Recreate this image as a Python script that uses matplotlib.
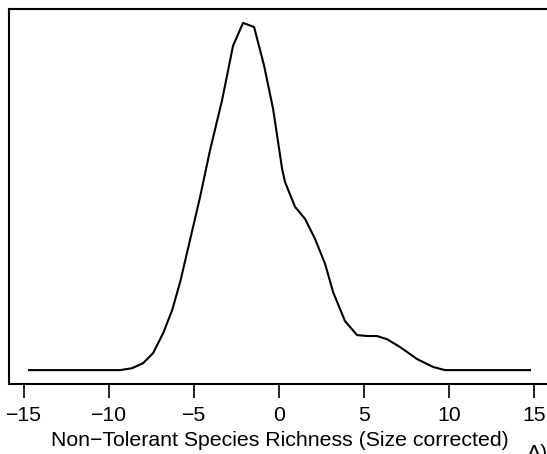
import matplotlib
matplotlib.use("Agg")
import matplotlib.pyplot as plt

# Dichteschätzung
richness = [-14.71, -10.53, -9.35, -8.65, -8.00, -7.41, -6.82, -6.29, -5.82, -5.24,
            -4.65, -4.06, -3.35, -2.71, -2.12, -1.47, -0.88, -0.35, 0.18, 0.35,
            0.94, 1.53, 2.12, 2.71, 3.18, 3.88, 4.59, 5.18, 5.76, 6.35,
            7.12, 8.12, 9.06, 9.76, 14.76]
density = [0, 0, 0, 0.0006, 0.0022, 0.0054, 0.0117, 0.0190, 0.0279, 0.0412,
           0.0548, 0.0697, 0.0856, 0.1027, 0.1100, 0.1087, 0.0964, 0.0827, 0.0637, 0.0596,
           0.0517, 0.0479, 0.0415, 0.0336, 0.0247, 0.0155, 0.0111, 0.0108, 0.0108, 0.0098,
           0.0073, 0.0035, 0.0010, 0, 0]
x_ticks = [-15, -10, -5, 0, 5, 10, 15]
x_label = "Non\u2212Tolerant Species Richness (Size corrected)"
panel = "A)"

plt.rcParams['font.family'] = ['Liberation Sans', 'DejaVu Sans']
plt.rcParams['axes.unicode_minus'] = True

fig = plt.figure(figsize=(5.47, 4.54), dpi=100)
ax = fig.add_axes([9 / 547, 70 / 454, 541 / 547, 375 / 454])

ax.plot(richness, density, color="black", linewidth=1.5)

# R-typische 4% Erweiterung der Achsen
xr = max(richness) - min(richness)
yr = max(density) - min(density)
ax.set_xlim(min(richness) - 0.04 * xr, max(richness) + 0.04 * xr)
ax.set_ylim(min(density) - 0.04 * yr, max(density) + 0.04 * yr)

ax.set_xticks(x_ticks)
ax.set_xticklabels([str(t).replace("-", "\u2212") for t in x_ticks])
ax.set_yticks([])
ax.tick_params(axis="x", direction="out", length=10, width=1.2, pad=6, labelsize=15.3)
for s in ax.spines.values():
    s.set_linewidth(1.5)

ax.set_xlabel(x_label, fontsize=15.3)
ax.xaxis.set_label_coords(0.5, -56 / 375)
ax.xaxis.label.set_va("center")

fig.text(527 / 547, 10 / 454, panel, fontsize=15.3, ha="left", va="top")

fig.savefig("out.png", dpi=100)
